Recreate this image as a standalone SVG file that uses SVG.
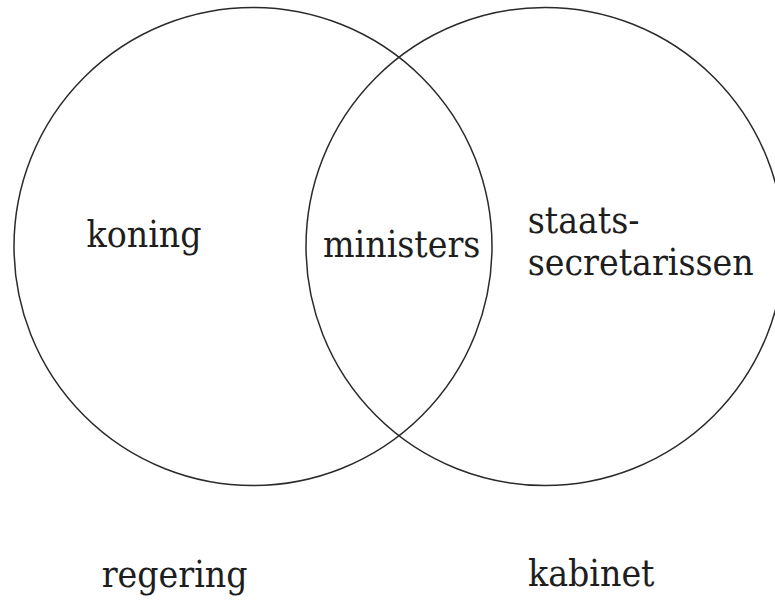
<svg xmlns="http://www.w3.org/2000/svg" width="775" height="603" viewBox="0 0 775 603">
<style>
.set{fill:none;stroke:#2a2a2a;stroke-width:1.5}
.lbl{font-family:"DejaVu Serif Condensed","DejaVu Serif","Liberation Serif",serif;font-stretch:condensed;font-size:37px;fill:#1e1e1e}
</style>
<rect width="775" height="603" fill="#fff"/>
<g id="regering-set"><ellipse class="set" cx="253" cy="246.5" rx="239" ry="239"/></g>
<g id="kabinet-set"><ellipse class="set" cx="545" cy="246.5" rx="239" ry="239"/></g>
<g id="koning"><text class="lbl" x="86.5" y="246.7">koning</text></g>
<g id="ministers"><text class="lbl" x="323" y="256.7">ministers</text></g>
<g id="staatssecretarissen"><text class="lbl" x="527.7" y="233.3">staats-</text><text class="lbl" x="527.7" y="275">secretarissen</text></g>
<g id="regering"><text class="lbl" x="101.7" y="586.7">regering</text></g>
<g id="kabinet"><text class="lbl" x="528" y="586">kabinet</text></g>
<g id="connectors"></g>
</svg>
